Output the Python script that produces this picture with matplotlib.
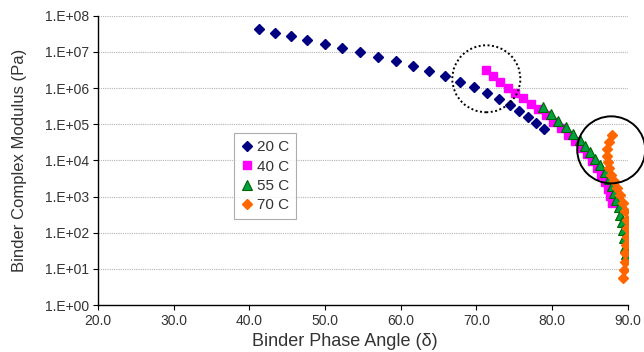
import numpy as np
import matplotlib
matplotlib.use("Agg")
import matplotlib.pyplot as plt
from matplotlib.patches import Ellipse
from matplotlib.ticker import FuncFormatter, FixedLocator

plt.rcParams["font.family"] = ["Liberation Sans", "DejaVu Sans"]

# phase angle (deg) and complex modulus (Pa) per test temperature
angle_20 = [41.3, 43.4, 45.5, 47.65, 50.0, 52.3, 54.65, 57.0, 59.4, 61.65, 63.7,
            65.8, 67.8, 69.7, 71.35, 73.0, 74.4, 75.65, 76.8, 77.9, 78.9]
modulus_20 = [4.2e7, 3.4e7, 2.75e7, 2.1e7, 1.65e7, 1.26e7, 9.7e6, 7.2e6, 5.5e6,
              4.0e6, 2.95e6, 2.1e6, 1.48e6, 1.05e6, 7.2e5, 5.0e5, 3.3e5, 2.35e5,
              1.55e5, 1.05e5, 7.2e4]

angle_40 = [71.32, 72.18, 73.1, 74.1, 75.09, 76.14, 77.2, 78.19, 79.18, 80.17,
            81.16, 82.09, 83.01, 83.87, 84.6, 85.26, 85.92, 86.45, 86.91, 87.31,
            87.64, 87.9]
modulus_40 = [3.05e6, 2.08e6, 1.47e6, 1.03e6, 7.5e5, 5.3e5, 3.7e5, 2.63e5, 1.74e5,
              1.15e5, 7.7e4, 5.0e4, 3.4e4, 2.26e4, 1.5e4, 9.6e3, 6.0e3, 3.85e3,
              2.46e3, 1.58e3, 1.02e3, 660]

angle_55 = [78.75, 79.84, 80.83, 81.82, 82.71, 83.61, 84.33, 84.99, 85.65, 86.31,
            86.91, 87.44, 87.86, 88.16, 88.49, 88.76, 89.02, 89.22, 89.39, 89.48,
            89.62, 89.75]
modulus_55 = [2.99e5, 1.97e5, 1.26e5, 8.2e4, 5.5e4, 3.66e4, 2.42e4, 1.65e4, 1.08e4,
              7.2e3, 4.7e3, 3.1e3, 2.0e3, 1.27e3, 795, 497, 311, 193, 116, 72,
              40, 26]

angle_70 = [87.9, 87.44, 87.24, 87.2, 87.31, 87.5, 87.83, 88.22, 88.62, 89.02,
            89.39, 89.62, 89.82, 89.84, 89.84, 89.75, 89.66, 89.62, 89.52, 89.39]
modulus_70 = [5.0e4, 3.2e4, 2.06e4, 1.36e4, 9.0e3, 5.96e3, 3.94e3, 2.6e3, 1.72e3,
              1.1e3, 662, 385, 224, 131, 76, 45.7, 26.6, 15.5, 9.3, 5.6]

x_ticks = [20, 30, 40, 50, 60, 70, 80, 90]
y_ticks = [1e0, 1e1, 1e2, 1e3, 1e4, 1e5, 1e6, 1e7, 1e8]

# highlighted regions (data coords of circle centres)
dotted_centre = (71.3, 1.8e6)
solid_centre = (87.8, 1.95e4)

TEXT = "#333333"

fig = plt.figure(figsize=(6.44, 3.52), dpi=100)
ax = fig.add_axes([0.152, 0.1335, 0.823, 0.822])

ax.plot(angle_20, modulus_20, linestyle="none", marker="D", markersize=5.2,
        color="#000080", mec="#000080", label="20 C")
ax.plot(angle_40, modulus_40, linestyle="none", marker="s", markersize=6,
        color="#FF00FF", mec="#FF00FF", label="40 C")
ax.plot(angle_55, modulus_55, linestyle="none", marker="^", markersize=7,
        color="#00A040", mec="#006400", mew=0.8, label="55 C")
ax.plot(angle_70, modulus_70, linestyle="none", marker="D", markersize=4.6,
        color="#FF6600", mec="#FF6600", label="70 C")

ax.set_yscale("log")
ax.set_xlim(20, 90)
ax.set_ylim(1e0, 1e8)
ax.xaxis.set_major_locator(FixedLocator(x_ticks))
ax.yaxis.set_major_locator(FixedLocator(y_ticks))
ax.yaxis.set_minor_locator(FixedLocator([]))
ax.xaxis.set_major_formatter(FuncFormatter(lambda v, p: f"{v:.1f}"))
ax.yaxis.set_major_formatter(
    FuncFormatter(lambda v, p: f"1.E+{int(round(np.log10(v))):02d}"))

ax.grid(axis="y", color="#b4b4b4", linewidth=0.8, linestyle=(0, (1, 1)))
ax.set_axisbelow(True)
for side in ["top", "right"]:
    ax.spines[side].set_visible(False)
for side in ["left", "bottom"]:
    ax.spines[side].set_color("black")
    ax.spines[side].set_linewidth(1.0)
ax.tick_params(axis="both", direction="out", length=3.5, width=0.8,
               labelsize=10, labelcolor=TEXT, pad=3)

ax.set_xlabel("Binder Phase Angle (δ)", fontsize=13, color=TEXT, va="baseline")
ax.set_ylabel("Binder Complex Modulus (Pa)", fontsize=12, color=TEXT)
ax.xaxis.set_label_coords(0.466, -0.1417)
ax.yaxis.set_label_coords(-0.134, 0.5)

leg = ax.legend(loc="upper left", bbox_to_anchor=(0.257, 0.5935), fontsize=11,
                frameon=True, fancybox=False, edgecolor="#999999",
                handlelength=0.8, handletextpad=0.25, borderpad=0.45,
                labelspacing=0.35, borderaxespad=0, markerscale=1.0)
leg.get_frame().set_linewidth(0.8)
for t in leg.get_texts():
    t.set_color(TEXT)

# circle annotations, centred on data points, sized in axes fractions
to_axes = ax.transAxes.inverted()
for centre, style in [(dotted_centre, (0, (1, 1.3))), (solid_centre, "-")]:
    cx, cy = to_axes.transform(ax.transData.transform(centre))
    ax.add_patch(Ellipse((cx, cy), 68 / 530, 67 / 289.3, transform=ax.transAxes,
                         fill=False, edgecolor="black", linewidth=1.4,
                         linestyle=style, clip_on=False, zorder=5))

fig.savefig("out.png", dpi=100)
